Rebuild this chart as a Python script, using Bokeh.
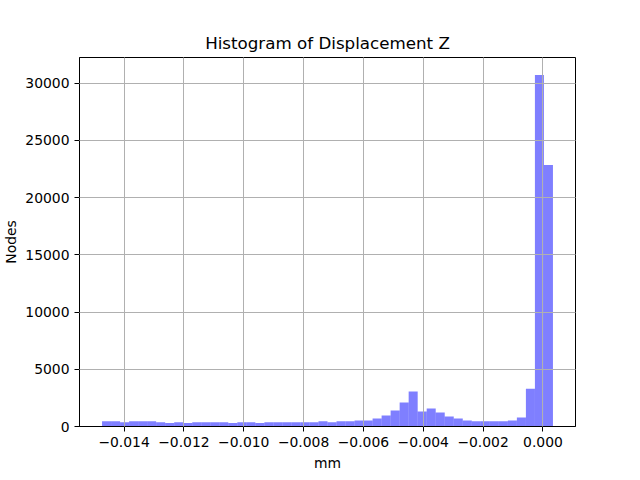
import numpy as np
from bokeh.plotting import figure
from bokeh.models import Range1d, FixedTicker, CustomJSTickFormatter
from bokeh.embed import file_html
from bokeh.resources import INLINE

# ---- data ----
data_min = -0.014737
data_max = 0.000335
counts = [450, 450, 380, 450, 450, 450, 380, 300, 380, 300,
          380, 380, 380, 380, 300, 380, 380, 300, 380, 380,
          380, 380, 380, 380, 450, 380, 450, 450, 520, 520,
          700, 960, 1400, 2100, 3050, 1300, 1570, 1220, 870, 700,
          520, 450, 450, 450, 450, 520, 780, 3300, 30700, 22850]
x_ticks = [-0.014, -0.012, -0.010, -0.008, -0.006, -0.004, -0.002, 0.000]
y_ticks = [0, 5000, 10000, 15000, 20000, 25000, 30000]
title = "Histogram of Displacement Z"
x_label = "mm"
y_label = "Nodes"

edges = np.linspace(data_min, data_max, len(counts) + 1)
span = data_max - data_min
x_lo = data_min - 0.05 * span
x_hi = data_max + 0.05 * span
y_hi = max(counts) * 1.05

FONT = "DejaVu Sans"

p = figure(frame_width=496, frame_height=369, output_backend="svg", toolbar_location=None,
           x_range=Range1d(x_lo, x_hi), y_range=Range1d(0, y_hi),
           min_border_left=72, min_border_right=56, min_border_top=57,
           min_border_bottom=40, title=title)

p.quad(left=edges[:-1], right=edges[1:], top=counts, bottom=0,
       fill_color="#0000ff", fill_alpha=0.5, line_color=None)

p.title.align = "center"
p.title.text_font = FONT
p.title.text_font_size = "16.7px"
p.title.text_font_style = "normal"
p.title.text_color = "black"

p.outline_line_color = "black"
p.outline_line_width = 1
p.background_fill_color = "white"
p.border_fill_color = "white"

for g in (p.xgrid, p.ygrid):
    g.grid_line_color = "#b0b0b0"
    g.grid_line_width = 1
    g.level = "overlay"

p.xaxis.ticker = FixedTicker(ticks=x_ticks)
p.yaxis.ticker = FixedTicker(ticks=y_ticks)
p.xaxis.formatter = CustomJSTickFormatter(code="""
    if (Math.abs(tick) < 1e-12) return "0.000";
    return (tick < 0 ? "\u2212" : "") + Math.abs(tick).toFixed(3);
""")
p.yaxis.formatter = CustomJSTickFormatter(code="return Math.round(tick).toString();")

for ax in (p.xaxis, p.yaxis):
    ax.axis_line_color = "black"
    ax.axis_line_width = 1
    ax.major_tick_line_color = "black"
    ax.major_tick_in = 0
    ax.major_tick_out = 5
    ax.minor_tick_line_color = None
    ax.major_label_text_font = FONT
    ax.major_label_text_font_size = "13.9px"
    ax.major_label_text_color = "black"
    ax.axis_label_text_font = FONT
    ax.axis_label_text_font_size = "13.9px"
    ax.axis_label_text_font_style = "normal"
    ax.axis_label_text_color = "black"
    ax.major_label_standoff = 5

p.xaxis.axis_label = x_label
p.yaxis.axis_label = y_label
p.xaxis.axis_label_standoff = 5
p.yaxis.axis_label_standoff = 3

open("out.html", "w").write(file_html(p, INLINE))
